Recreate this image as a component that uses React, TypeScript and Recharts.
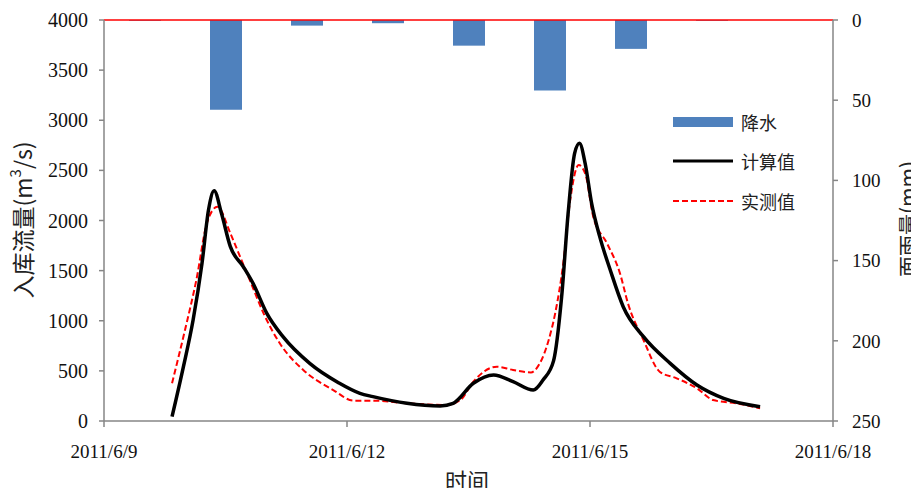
import { Bar, ComposedChart, Line, ReferenceLine, XAxis, YAxis } from "recharts";

const dayTicks = [0, 3, 6, 9];
const dayLabels = ["2011/6/9", "2011/6/12", "2011/6/15", "2011/6/18"];
const flowTicks = [0, 500, 1000, 1500, 2000, 2500, 3000, 3500, 4000];
const rainTicks = [0, 50, 100, 150, 200, 250];

// 日降水（一天一根柱）
const rainDay = ["6/9", "6/10", "6/11", "6/12", "6/13", "6/14", "6/15", "6/16", "6/17"];
const rainMm = [0.5, 56, 3.5, 2, 16, 44, 18, 0.5, 0];

// 计算值
const calcT = [
  0.84, 0.98, 1.1, 1.21, 1.29, 1.36, 1.45, 1.56, 1.72, 1.84, 2.01, 2.21, 2.54, 2.9,
  3.16, 3.32, 3.74, 4.15, 4.31, 4.56, 4.81, 5.05, 5.3, 5.42, 5.55, 5.65, 5.73, 5.81,
  5.87, 5.94, 6.02, 6.12, 6.25, 6.41, 6.66, 6.99, 7.32, 7.65, 8.1,
];
const calcQ = [
  43, 540, 1007, 1573, 2105, 2297, 2072, 1739, 1539, 1373, 1074, 841, 575, 380,
  276, 243, 176, 150, 176, 376, 459, 392, 309, 409, 600, 1240, 2072, 2670,
  2770, 2570, 2171, 1839, 1506, 1140, 841, 575, 359, 226, 143,
];

// 实测值
const obsT = [
  0.84, 1.0, 1.14, 1.27, 1.4, 1.56, 1.68, 1.8, 1.97, 2.17, 2.46, 2.83, 3.08, 3.32,
  3.74, 4.23, 4.4, 4.56, 4.85, 5.05, 5.27, 5.38, 5.49, 5.57, 5.67, 5.75, 5.86, 5.94,
  6.04, 6.21, 6.37, 6.47, 6.66, 6.86, 7.07, 7.32, 7.52, 7.81, 8.1,
];
const obsQ = [
  376, 908, 1406, 1972, 2138, 1872, 1639, 1406, 1074, 775, 509, 309, 203, 203,
  176, 160, 209, 392, 542, 509, 485, 575, 808, 1074, 1573, 2171, 2553, 2470,
  2038, 1772, 1473, 1170, 808, 492, 426, 326, 209, 176, 126,
];

const rainData = rainDay.map((day, i) => ({ day, rain: rainMm[i] }));
const calcData = calcT.map((t, i) => ({ t, q: calcQ[i] }));
const obsData = obsT.map((t, i) => ({ t, q: obsQ[i] }));

const SERIF = '"Liberation Serif", "DejaVu Serif", serif';
const CJK = '"Noto Sans CJK SC", "Liberation Serif", sans-serif';
const AXIS = "#868686";

const legendRows = [
  { name: "降水", kind: "bar", top: 114 },
  { name: "计算值", kind: "calc", top: 153 },
  { name: "实测值", kind: "obs", top: 193 },
];

export default function App() {
  return (
    <div style={{ position: "relative", width: 911, height: 480, fontFamily: SERIF }}>
      <ComposedChart
        width={911}
        height={480}
        data={rainData}
        margin={{ top: 12, right: 0, bottom: 0, left: 0 }}
      >
        <XAxis xAxisId="days" dataKey="day" type="category" orientation="top" height={0} hide />
        <XAxis
          xAxisId="time"
          dataKey="t"
          type="number"
          domain={[0, 9]}
          ticks={dayTicks}
          tickFormatter={(v: number) => dayLabels[dayTicks.indexOf(v)]}
          height={67}
          stroke={AXIS}
          strokeWidth={1.5}
          tickSize={6}
          tickMargin={18}
          tick={{ fill: "#111", fontSize: 19, fontFamily: SERIF }}
          allowDataOverflow
        />
        <YAxis
          yAxisId="flow"
          orientation="left"
          domain={[0, 4000]}
          ticks={flowTicks}
          width={96}
          stroke={AXIS}
          strokeWidth={1.5}
          tickSize={5}
          tickMargin={11}
          tick={{ fill: "#111", fontSize: 20, fontFamily: SERIF }}
        />
        <YAxis
          yAxisId="rain"
          orientation="right"
          reversed
          domain={[0, 250]}
          ticks={rainTicks}
          width={86}
          stroke={AXIS}
          strokeWidth={1.5}
          tickSize={5}
          tickMargin={14}
          tick={{ fill: "#111", fontSize: 19, fontFamily: SERIF }}
        />
        <Bar
          xAxisId="days"
          yAxisId="rain"
          dataKey="rain"
          fill="#4F81BD"
          barSize={32}
          isAnimationActive={false}
        />
        <Line
          xAxisId="time"
          yAxisId="flow"
          data={obsData}
          dataKey="q"
          type="monotone"
          stroke="#FF0000"
          strokeWidth={2}
          strokeDasharray="6 3"
          dot={false}
          isAnimationActive={false}
        />
        <Line
          xAxisId="time"
          yAxisId="flow"
          data={calcData}
          dataKey="q"
          type="monotone"
          stroke="#000"
          strokeWidth={3.5}
          dot={false}
          isAnimationActive={false}
        />
        <ReferenceLine xAxisId="time" yAxisId="flow" y={4000} stroke="#FF0000" strokeWidth={1.5} />
      </ComposedChart>

      <svg
        width={911}
        height={480}
        style={{ position: "absolute", left: 0, top: 0, pointerEvents: "none" }}
      >
        <g fontFamily={CJK} fill="#222" textAnchor="middle" dominantBaseline="central">
          <text x={14} y={212} fontSize={23} transform="rotate(-90 14 212)">
            入库流量(m<tspan dy={-8} fontSize={15}>3</tspan>
            <tspan dy={8}>/s)</tspan>
          </text>
          <text x={899} y={211} fontSize={21} transform="rotate(-90 899 211)">
            面雨量(mm)
          </text>
          <text x={459} y={471} fontSize={22}>时间</text>
        </g>
      </svg>

      {legendRows.map((row) => (
        <div
          key={row.name}
          style={{
            position: "absolute",
            left: 665,
            top: row.top - 12,
            height: 24,
            display: "flex",
            alignItems: "center",
            gap: 8,
            fontFamily: CJK,
            fontSize: 18,
            color: "#222",
          }}
        >
          <svg width={60} height={14}>
            {row.kind === "bar" && <rect x={0} y={2} width={60} height={10} fill="#4F81BD" />}
            {row.kind === "calc" && <line x1={0} x2={60} y1={7} y2={7} stroke="#000" strokeWidth={3} />}
            {row.kind === "obs" && (
              <line x1={0} x2={60} y1={7} y2={7} stroke="#FF0000" strokeWidth={2} strokeDasharray="6 3" />
            )}
          </svg>
          <span>{row.name}</span>
        </div>
      ))}
    </div>
  );
}
